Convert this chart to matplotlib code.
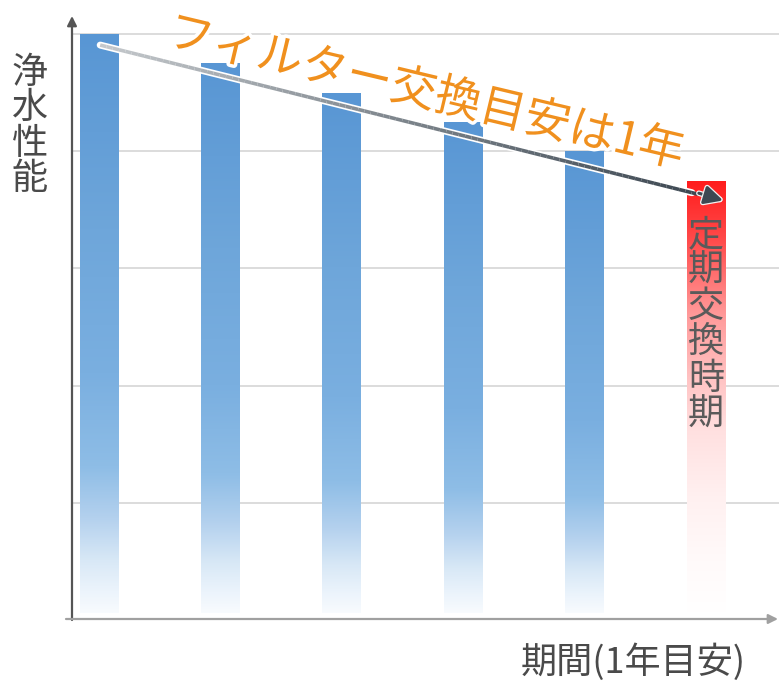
import numpy as np
import matplotlib
matplotlib.use("Agg")
import matplotlib.pyplot as plt
from matplotlib.colors import LinearSegmentedColormap
from matplotlib.collections import LineCollection
import matplotlib.patheffects as pe

plt.rcParams['font.family'] = ['Noto Sans CJK JP', 'DejaVu Sans']

# --- data -------------------------------------------------------------
periods = [0, 1, 2, 3, 4, 5]
performance = [5.0, 4.75, 4.5, 4.25, 4.0, 3.75]
grid_levels = [1, 2, 3, 4, 5]
y_label = "浄水性能"
x_label = "期間(1年目安)"
trend_label = "フィルター交換目安は1年"
replace_label = "定期交換時期"

W, H = 779, 682
fig = plt.figure(figsize=(W / 100, H / 100), dpi=100)
fig.patch.set_facecolor("white")


def fx(px):
    return px / W


def fy(py):
    return 1 - py / H


ax = fig.add_axes([fx(72), fy(620), fx(779) - fx(72), fy(20) - fy(620)])
for s in ax.spines.values():
    s.set_visible(False)
ax.set_xticks([])
ax.set_yticks([])
ax.patch.set_alpha(0)

for g in grid_levels:
    ax.axhline(g, color="#d9d9d9", lw=1.3, zorder=0)

blue_cmap = LinearSegmentedColormap.from_list(
    "blue_fade",
    [(0.0, "#f8fbfe"), (0.014, "#f3f8fd"), (0.036, "#ecf4fc"), (0.09, "#d8e8f6"),
     (0.162, "#b4d1ee"), (0.252, "#8ebde6"), (0.414, "#7aafe0"),
     (0.665, "#6ea6da"), (1.0, "#5896d4")])
red_cmap = LinearSegmentedColormap.from_list(
    "red_fade",
    [(0.0, "#ffffff"), (0.12, "#fffafa"), (0.27, "#fff0f0"), (0.42, "#ffe0e0"),
     (0.53, "#ffc6c6"), (0.69, "#ff9a9a"), (0.87, "#ff4848"), (1.0, "#ff1c1c")])

bar_w = 0.32
grad = np.linspace(0, 1, 256).reshape(-1, 1)
for i, (x, v) in enumerate(zip(periods, performance)):
    bar = ax.bar(x, v, width=bar_w, color="none", edgecolor="none", zorder=2)[0]
    cmap = red_cmap if i == len(periods) - 1 else blue_cmap
    im = ax.imshow(grad, cmap=cmap, origin="lower", aspect="auto",
                   extent=[x - bar_w / 2, x + bar_w / 2, 0.06, v], zorder=2,
                   interpolation="bilinear")
    im.set_clip_path(bar)
ax.set_xlim(-0.222, 5.60)
ax.set_ylim(0, 5.12)

# trend arrow: light grey at the start, dark at the head
x0, y0 = periods[0] + 0.01, performance[0] - 0.094
x1, y1 = periods[-1] + 0.14, performance[-1] - 0.17
n = 100
xs = np.linspace(x0, x1, n)
ys = np.linspace(y0, y1, n)
segs = np.stack([np.column_stack([xs[:-1], ys[:-1]]),
                 np.column_stack([xs[1:], ys[1:]])], axis=1)
ax.plot([x0, x0 + (x1 - x0) * 0.95], [y0, y0 + (y1 - y0) * 0.95],
        color="white", lw=5, solid_capstyle="round", zorder=3)
line_cmap = LinearSegmentedColormap.from_list(
    "grey_fade", ["#c4c8cc", "#7d858c", "#3d4852"])
lc = LineCollection(segs[:-4], cmap=line_cmap, lw=2.6, zorder=4)
lc.set_array(np.linspace(0, 1, n - 5))
ax.add_collection(lc)
ax.annotate("", xy=(x1, y1), xytext=(x1 - 0.2, y1 + 0.062),
            arrowprops=dict(arrowstyle="-|>", color="#3d4852", lw=2.2,
                            mutation_scale=28, shrinkA=0, shrinkB=0,
                            path_effects=[pe.withStroke(linewidth=4, foreground="#f2f2f2")]),
            zorder=5)

# orange caption along the trend
fig.text(fx(426), fy(93), trend_label, rotation=-13.4, color="#f0901e",
         fontsize=33, ha="center", va="center", rotation_mode="anchor",
         path_effects=[pe.withStroke(linewidth=5, foreground="white")])

# vertical label inside the last bar
ax.text(periods[-1], (620 - 325) / 117.2, "\n".join(replace_label),
        color="#5a5a5a", fontsize=26, ha="center", va="center",
        linespacing=1.0, zorder=6)

# axis title texts
fig.text(fx(30), fy(126), "\n".join(y_label), color="#4a4a4a", fontsize=26,
         ha="center", va="center", linespacing=0.98)
fig.text(fx(633), fy(662), x_label, color="#4a4a4a", fontsize=26,
         ha="center", va="center")

# axis arrows
ax.annotate("", xy=(fx(72), fy(16)), xytext=(fx(72), fy(620)),
            xycoords="figure fraction", textcoords="figure fraction",
            arrowprops=dict(arrowstyle="-|>", color="#555555", lw=1.6,
                            mutation_scale=14, shrinkA=0, shrinkB=0))
ax.annotate("", xy=(fx(778), fy(619)), xytext=(fx(66), fy(619)),
            xycoords="figure fraction", textcoords="figure fraction",
            arrowprops=dict(arrowstyle="-|>", color="#a0a0a0", lw=1.6,
                            mutation_scale=14, shrinkA=0, shrinkB=0))

fig.savefig("out.png", dpi=100, facecolor="white")
